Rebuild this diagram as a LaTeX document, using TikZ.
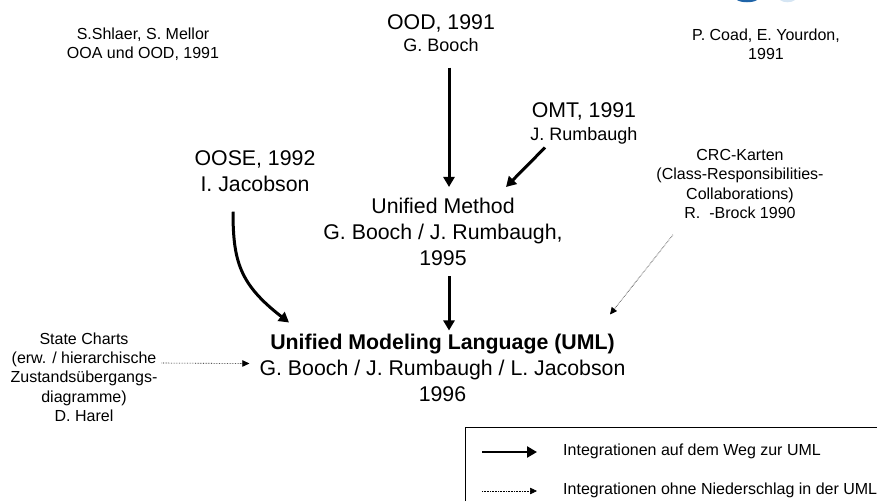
\documentclass[tikz,border=0pt]{standalone}
\usepackage{fontspec}
\setmainfont{Liberation Sans}
\usetikzlibrary{arrows.meta}
\definecolor{logoblue}{HTML}{1F64A8}
\definecolor{logopale}{HTML}{D5E5F3}
\tikzset{
  small/.style={align=center, inner sep=0pt, font=\fontsize{16}{19.3}\selectfont},
  large/.style={align=center, inner sep=0pt, font=\fontsize{21.3}{26}\selectfont},
  strong/.style={-{Triangle[length=10pt,width=11pt]}, line width=3pt},
  weak/.style={-{Triangle[length=7pt,width=6.5pt]}, line width=0.6pt, densely dotted},
}
\begin{document}
\begin{tikzpicture}[x=1pt, y=-1pt]
  \useasboundingbox (0,0) rectangle (877,501);

  \fill[logoblue] (737,0) .. controls (741,3) and (753,3) .. (757,0) -- cycle;
  \fill[logopale] (780,0) .. controls (783,3) and (792,3) .. (795,0) -- cycle;

  \node[small] (shlaer) at (143,44.5) {S.Shlaer, S. Mellor\\OOA und OOD, 1991};
  \node[small] (coad) at (766,44.5) {P. Coad, E. Yourdon,\\1991};
  \node[large] (ood) at (441,33) {OOD, 1991\\[-4pt]{\fontsize{18}{24}\selectfont G. Booch}};
  \node[large] (omt) at (584,123) {OMT, 1991\\[-3pt]{\fontsize{18}{24}\selectfont J. Rumbaugh}};
  \node[large] (oose) at (255,171) {OOSE, 1992\\I. Jacobson};
  \node[large] (method) at (443,232) {Unified Method\\G. Booch / J. Rumbaugh,\\1995};
  \node[small] (crc) at (740,184) {CRC-Karten\\(Class-Responsibilities-\\Collaborations)\\R.~~-Brock 1990};
  \node[large] (uml) at (442.5,367.5) {\textbf{Unified Modeling Language (UML)}\\G. Booch / J. Rumbaugh / L. Jacobson\\1996};
  \node[small] (harel) at (84,377) {State Charts\\(erw. / hierarchische\\Zustandsübergangs-\\diagramme)\\D. Harel};

  \draw[strong] ([xshift=8pt,yshift=-16pt]ood.south) -- ([xshift=6pt,yshift=11pt]method.north);
  \draw[strong] ([xshift=-39pt,yshift=-3.5pt]omt.south) -- ([xshift=63pt,yshift=11pt]method.north);
  \draw[strong] ([xshift=6pt,yshift=-10pt]method.south) -- ([xshift=6.5pt,yshift=3pt]uml.north);
  \draw[strong] ([xshift=-22pt,yshift=-20pt]oose.south) .. controls +(0,50) and +(-49,-38) .. ([xshift=-153.5pt,yshift=11pt]uml.north);
  \draw[weak] ([xshift=-67pt,yshift=-16pt]crc.south) -- ([xshift=167.5pt,yshift=19pt]uml.north);
  \draw[weak] ([xshift=4pt,yshift=14pt]harel.east) -- ([xshift=-10pt,yshift=4pt]uml.west);

  \draw[line width=0.8pt] (465,501) |- (877,427);
  \coordinate (solida) at (482,452);
  \coordinate (solidb) at (537,452);
  \coordinate (dotta) at (482,491);
  \coordinate (dottb) at (537,491);
  \draw[strong, line width=2.4pt] (solida) -- (solidb);
  \draw[weak] (dotta) -- (dottb);
  \node[small, anchor=west] (legstrong) at (563,451) {Integrationen auf dem Weg zur UML};
  \node[small, anchor=west] (legweak) at (563,490) {Integrationen ohne Niederschlag in der UML};
\end{tikzpicture}
\end{document}
